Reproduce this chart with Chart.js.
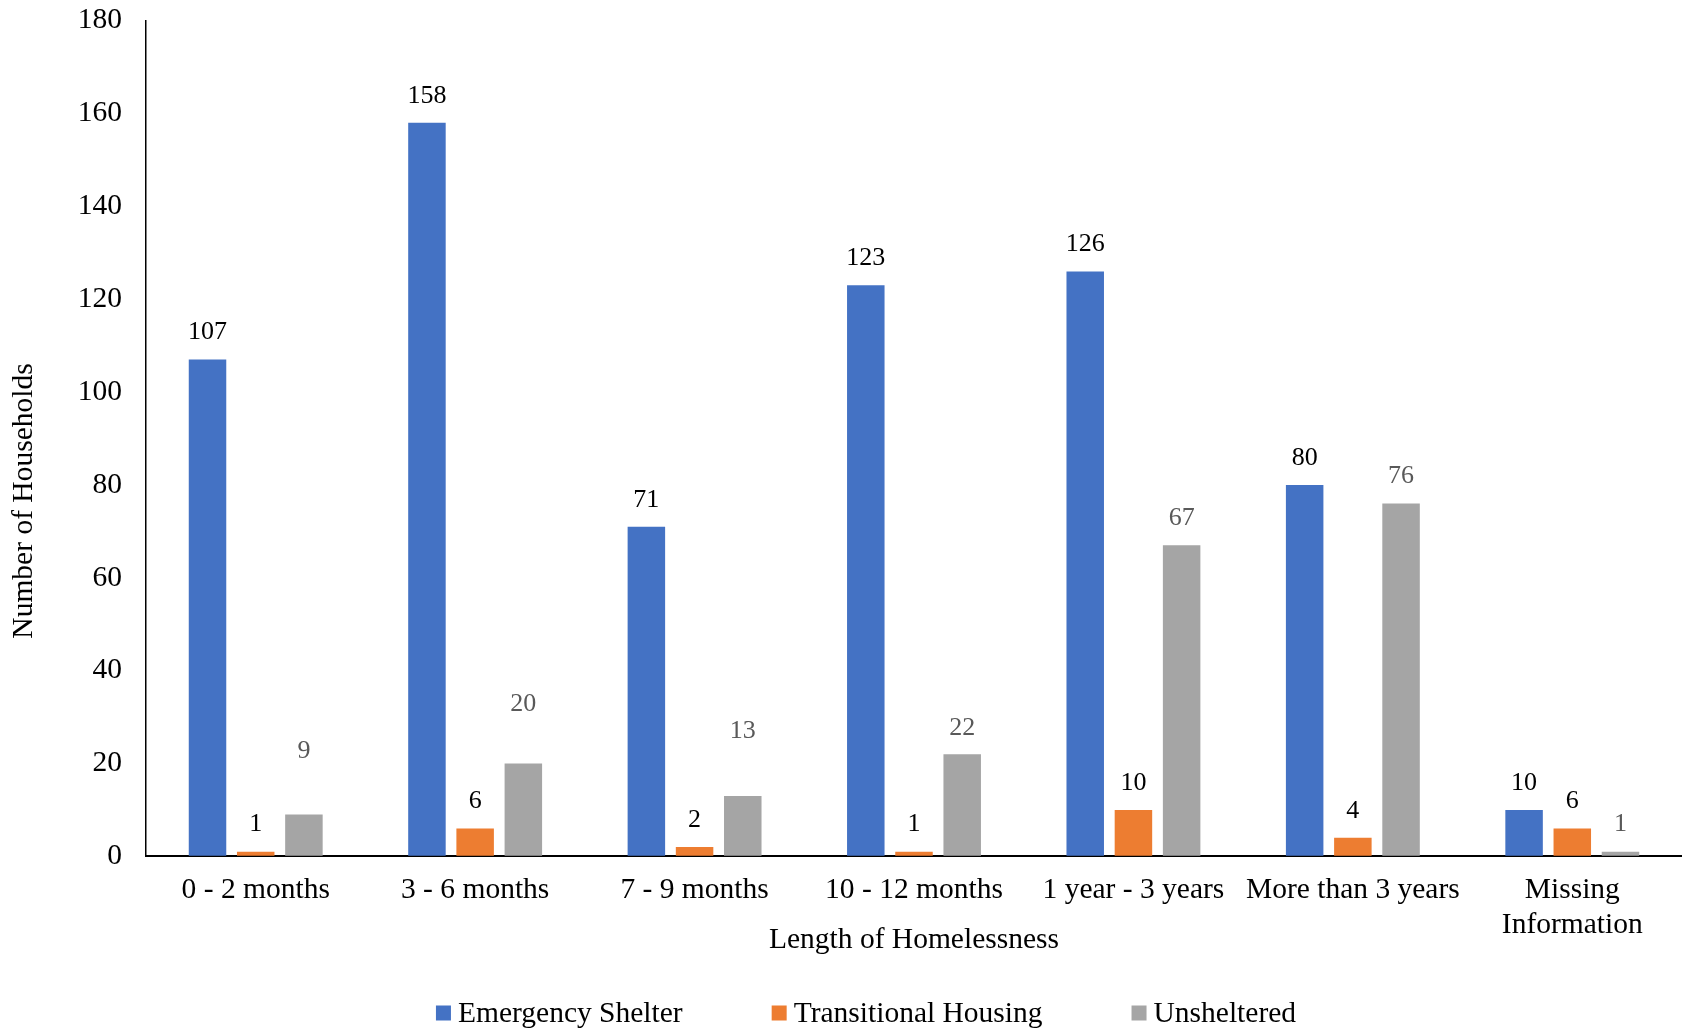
<!DOCTYPE html>
<html>
<head>
<meta charset="utf-8">
<script src="https://cdn.jsdelivr.net/npm/chart.js@4.4.1/dist/chart.umd.min.js"></script>
<style>
	html, body { margin: 0; padding: 0; background: #fff; }
	canvas { display: block; }
</style>
</head>
<body>
<canvas id="chart" width="1682" height="1031"></canvas>
<script>
// Length of homelessness by shelter type
const categories = ["0 - 2 months", "3 - 6 months", "7 - 9 months", "10 - 12 months", "1 year - 3 years", "More than 3 years", ["Missing", "Information"]];
const emergencyShelter = [107, 158, 71, 123, 126, 80, 10];
const transitionalHousing = [1, 6, 2, 1, 10, 4, 6];
const unsheltered = [9, 20, 13, 22, 67, 76, 1];
const yMax = 180;
const yStep = 20;
const yTitle = "Number of Households";

const FONT = '"Liberation Serif", "Times New Roman", serif';
const TEXT_SIZE = 29.5;

// some value labels in the grey series sit higher than the rest (moved by hand in the original)
const unshelteredLabelLift = [63, 59, 65, 26, 27, 27, 27];

const valueLabels = {
	id: "valueLabels",
	afterDatasetsDraw(chart) {
		const ctx = chart.ctx;
		ctx.save();
		ctx.font = "26px " + FONT;
		ctx.textAlign = "center";
		ctx.textBaseline = "middle";
		chart.data.datasets.forEach((ds, i) => {
			chart.getDatasetMeta(i).data.forEach((bar, j) => {
				const lift = ds.labelLift ? ds.labelLift[j] : 27;
				ctx.fillStyle = ds.labelColor;
				ctx.fillText(ds.data[j], bar.x, bar.y - lift);
			});
		});
		ctx.restore();
	},
};

// y title sits a little below the middle of the axis in the original
const sideTitle = {
	id: "sideTitle",
	afterDraw(chart) {
		const ctx = chart.ctx;
		ctx.save();
		ctx.translate(24, 501);
		ctx.rotate(-Math.PI / 2);
		ctx.font = TEXT_SIZE + "px " + FONT;
		ctx.fillStyle = "#000";
		ctx.textAlign = "center";
		ctx.textBaseline = "middle";
		ctx.fillText(yTitle, 0, 0);
		ctx.restore();
	},
};

const bottomLegend = {
	id: "bottomLegend",
	afterDraw(chart) {
		const ctx = chart.ctx;
		const box = 15, gap = 7, spacing = 89, centerX = 866, y = 1013;
		ctx.save();
		ctx.font = TEXT_SIZE + "px " + FONT;
		ctx.textBaseline = "middle";
		const widths = chart.data.datasets.map((ds) => box + gap + ctx.measureText(ds.label).width);
		const total = widths.reduce((a, b) => a + b, 0) + spacing * (widths.length - 1);
		let x = centerX - total / 2;
		chart.data.datasets.forEach((ds, i) => {
			ctx.fillStyle = ds.backgroundColor;
			ctx.fillRect(x, y - box / 2, box, box);
			ctx.fillStyle = "#000";
			ctx.fillText(ds.label, x + box + gap, y + 1);
			x += widths[i] + spacing;
		});
		ctx.restore();
	},
};

const textFont = { family: FONT, size: TEXT_SIZE, lineHeight: 1.2 };

new Chart(document.getElementById("chart"), {
	type: "bar",
	data: {
		labels: categories,
		datasets: [
			{ label: "Emergency Shelter", data: emergencyShelter, backgroundColor: "#4472C4", labelColor: "#000" },
			{ label: "Transitional Housing", data: transitionalHousing, backgroundColor: "#ED7D31", labelColor: "#000" },
			{ label: "Unsheltered", data: unsheltered, backgroundColor: "#A5A5A5", labelColor: "#595959", labelLift: unshelteredLabelLift },
		],
	},
	options: {
		responsive: false,
		animation: false,
		layout: { padding: { top: 0, right: 0, bottom: 73, left: 0 } },
		datasets: { bar: { categoryPercentage: 0.659, barPercentage: 0.778 } },
		scales: {
			x: {
				grid: { display: false, drawTicks: false, tickLength: 0 },
				border: { display: true, color: "#000", width: 2 },
				ticks: {
					color: "#000",
					font: textFont,
					padding: 16,
					maxRotation: 0,
					minRotation: 0,
					autoSkip: false,
				},
				title: {
					display: true,
					text: "Length of Homelessness",
					color: "#000",
					font: textFont,
					padding: 0,
				},
				// the axis title tucks up beside the second line of the last label
				afterFit(scale) {
					scale.height -= 36.5;
				},
			},
			y: {
				min: 0,
				max: yMax,
				grid: { display: true, drawOnChartArea: false, drawTicks: true, tickLength: 21, tickColor: "rgba(0,0,0,0)" },
				border: { display: true, color: "#000", width: 1.5 },
				ticks: {
					stepSize: yStep,
					color: "#000",
					font: textFont,
					padding: 3,
				},
				title: { display: false },
				// leave room on the left for the side title
				afterFit(scale) {
					scale.width = 146;
				},
			},
		},
		plugins: {
			legend: { display: false },
			tooltip: { enabled: false },
		},
	},
	plugins: [valueLabels, sideTitle, bottomLegend],
});
</script>
</body>
</html>
